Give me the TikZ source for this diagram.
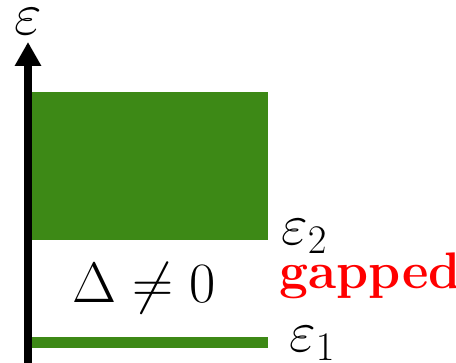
\documentclass[tikz,border=0pt]{standalone}
\usepackage{fix-cm}
\usepackage{amsmath}
\usetikzlibrary{arrows.meta,positioning}
\definecolor{bandgreen}{RGB}{61,137,22}

\begin{document}
\begin{tikzpicture}[x=0.5pt, y=0.5pt, every node/.style={inner sep=0pt, font=\fontsize{29}{32}\selectfont}]
    \useasboundingbox (0,0) rectangle (456,363);
    % energy axis
    \coordinate (Bottom) at (28,0);
    \coordinate (Top) at (28,321);
    \draw[line width=4pt, -{Triangle[width=12.5pt,length=12pt]}] (Bottom) -- (Top);
    \node[font=\fontsize{30}{32}\selectfont] (epsaxis) at (28,341) {$\varepsilon$};
    % upper band and lower level
    \coordinate (BandSW) at (32,123);
    \coordinate (BandNE) at (268,271);
    \coordinate (LevelSW) at (32,15);
    \coordinate (LevelNE) at (268,26);
    \fill[bandgreen] (BandSW) rectangle (BandNE);
    \fill[bandgreen] (LevelSW) rectangle (LevelNE);
    \node[anchor=base west] (epstwo) at (281,118) {$\varepsilon_2$};
    \node[anchor=base west] (epsone) at (289,11) {$\varepsilon_1$};
    \node[anchor=base west, font=\fontsize{28.5}{32}\selectfont] (gap) at (72,60) {$\Delta\neq 0$};
    \node[anchor=base west, text=red, font=\fontsize{25.7}{28}\selectfont\bfseries] (gapped) at (279,74) {gapped};
\end{tikzpicture}
\end{document}
